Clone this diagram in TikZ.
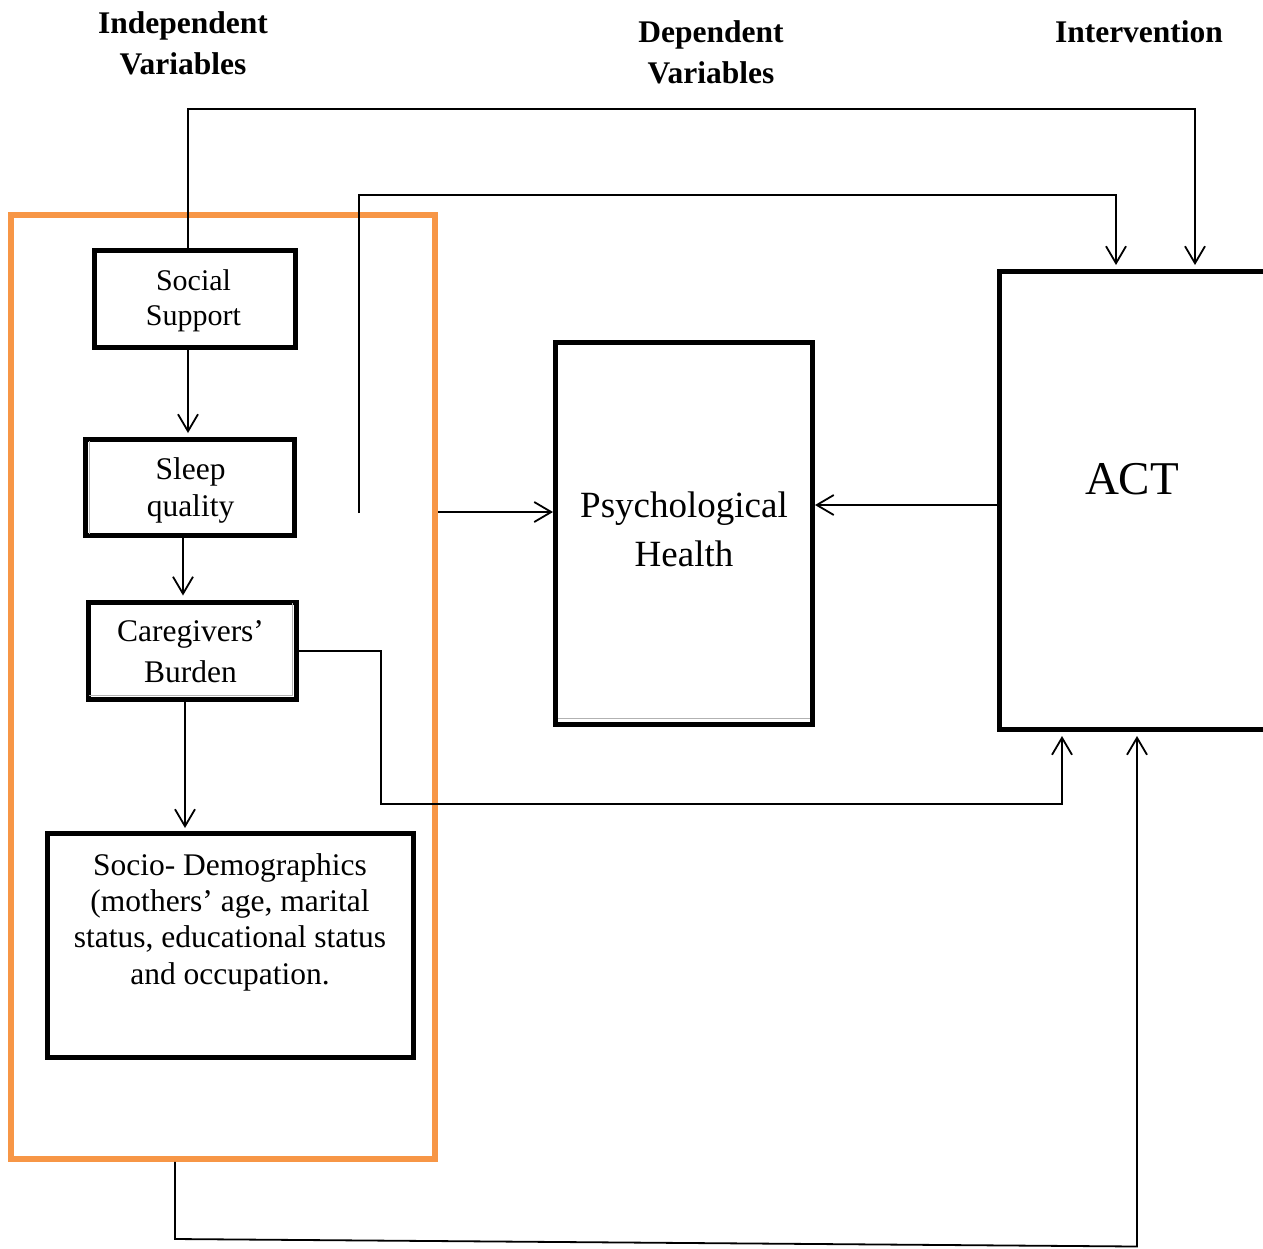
\documentclass[tikz,border=0pt]{standalone}
\usepackage{fontspec}
\setmainfont{Liberation Serif}
\usetikzlibrary{arrows.meta}
\definecolor{orangeline}{HTML}{F79646}
\begin{document}
\begin{tikzpicture}[x=1pt,y=-1pt,
  box/.style={draw=black, line width=5pt, rectangle, inner sep=0pt, align=center},
  lbl/.style={align=center, inner sep=0pt, font=\fontsize{31.5}{36.3}\selectfont},
  head/.style={align=center, inner sep=0pt, font=\bfseries\fontsize{31.5}{41}\selectfont},
  conn/.style={draw=black, line width=1.8pt},
  arr/.style={conn, -{Straight Barb[length=17pt,width=20pt,line width=1.8pt]}},
  innerline/.style={draw=gray!60, line width=1pt}
]
\fill[white] (0,0) rectangle (1263,1248);
\useasboundingbox (0,0) rectangle (1263,1248);

% headings
\node[head] (hindep) at (183,43) {Independent\\Variables};
\node[head] (hdep) at (711,52) {Dependent\\Variables};
\node[head] (hint) at (1139,32) {Intervention};

% orange group
\node[box, draw=orangeline, line width=5.5pt, minimum width=424pt, minimum height=944pt] (indep) at (223,687) {};

% boxes
\node[box, minimum width=201.5pt, minimum height=97pt] (ss) at (194.75,298.5) {};
\node[lbl, font=\fontsize{30}{35}\selectfont] (sstext) at (193.5,301) {Social\\Support};
\node[box, minimum width=209.5pt, minimum height=96pt] (sleep) at (189.75,487.5) {};
\node[lbl, font=\fontsize{31.5}{37}\selectfont] (sleeptext) at (190.5,490) {Sleep\\quality};
\node[box, minimum width=207.5pt, minimum height=97pt] (cb) at (192.25,650.5) {};
\node[lbl, font=\fontsize{31.5}{41}\selectfont] (cbtext) at (190.5,652) {Caregivers’\\Burden};
\node[box, minimum width=366pt, minimum height=224pt] (socio) at (230.5,945.5) {};
\node[lbl] (sociotext) at (230,922) {Socio- Demographics\\(mothers’ age, marital\\status, educational status\\and occupation.};
\node[box, minimum width=257pt, minimum height=382pt] (psych) at (684,533.5) {};
\node[lbl, font=\fontsize{37}{49}\selectfont] (psychtext) at (684,529.5) {Psychological\\Health};
\node[box, minimum width=273pt, minimum height=458pt] (act) at (1136,500.5) {};
\node[inner sep=0pt, font=\fontsize{47}{50}\selectfont] (acttext) at (1132,479.5) {ACT};

% double-border inner lines
\draw[innerline] (89,441) -- (89,534);
\draw[innerline] (292.7,603) -- (292.7,695) -- (89,695);
\draw[innerline] (558,718.5) -- (810,718.5);

% connectors
\coordinate (free) at (359,513);
\draw[arr, shorten >=4pt] (ss.north -| 188,0) -- (188,109) -- (1195,109) -- (act.north -| 1195,0);
\draw[arr, shorten >=4pt] (free) -- (359,195) -- (1116,195) -- (act.north -| 1116,0);
\draw[arr] (indep.east |- 0,512) -- (psych.west |- 0,512);
\draw[arr] (act.west |- 0,505) -- (psych.east |- 0,505);
\draw[arr, shorten >=4pt] (ss.south -| 188,0) -- (sleep.north -| 188,0);
\draw[arr, shorten >=4pt] (sleep.south -| 183,0) -- (cb.north -| 183,0);
\draw[arr, shorten >=3pt] (cb.south -| 185,0) -- (socio.north -| 185,0);
\draw[arr, shorten >=4pt] (cb.east |- 0,651) -- (381,651) -- (381,804) -- (1062,804) -- (act.south -| 1062,0);
\draw[arr, shorten >=4pt] (indep.south -| 175,0) -- (175,1239) -- (1137,1246.5) -- (act.south -| 1137,0);
\end{tikzpicture}
\end{document}
